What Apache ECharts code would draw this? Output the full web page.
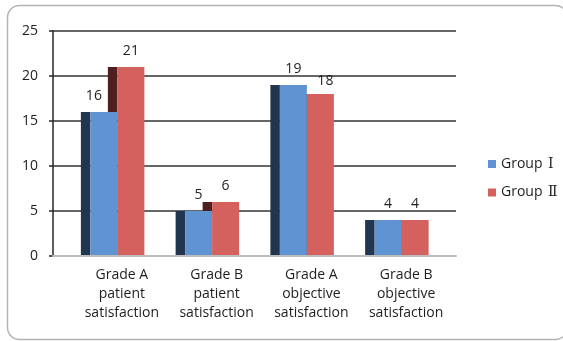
<!DOCTYPE html>
<html>
<head>
<meta charset="utf-8">
<script src="https://cdn.jsdelivr.net/npm/echarts@6/dist/echarts.min.js"></script>
<style>
  html, body { margin: 0; padding: 0; background: #ffffff; }
  #chart { width: 563px; height: 341px; }
</style>
</head>
<body>
<div id="chart"></div>
<script>
// Satisfaction grades for the two groups
const categories = [
  'Grade A\npatient\nsatisfaction',
  'Grade B\npatient\nsatisfaction',
  'Grade A\nobjective\nsatisfaction',
  'Grade B\nobjective\nsatisfaction'
];
const groupOne = [16, 5, 19, 4];
const groupTwo = [21, 6, 18, 4];
const seriesNames = ['Group Ⅰ', 'Group Ⅱ'];
const yTicks = { min: 0, max: 25, interval: 5 };

const FONT = '"Open Sans", "Noto Sans CJK SC", sans-serif';
const NUMERAL_FONT = '"DejaVu Serif", "Liberation Serif", serif';
const TEXT = '#1e1e1e';
const BLUE = '#5f93d2';
const RED = '#d4615d';
const BLUE_SIDE = '#21354f';
const RED_SIDE = '#4e1f1f';
const BAR_W = 27;
const DEPTH = 9.5;
const FS = 14;

// small nudges for a couple of value labels
const labelNudge = { one: { 0: [-10, 0] }, two: { 2: [5, 3] } };

function barData(values, nudges) {
  return values.map((v, i) => nudges[i]
    ? { value: v, label: { offset: nudges[i] } }
    : v);
}

const sideData = categories.map((c, i) => [i, groupOne[i], groupTwo[i]]);

const chart = echarts.init(document.getElementById('chart'), null, { renderer: 'canvas' });

const valueLabel = {
  show: true,
  position: 'top',
  distance: 9,
  fontFamily: FONT,
  fontSize: FS,
  color: TEXT
};

chart.setOption({
  animation: false,
  backgroundColor: '#ffffff',
  textStyle: { fontFamily: FONT },
  graphic: [{
    type: 'rect',
    shape: { x: 7.5, y: 5.5, width: 560, height: 334, r: 12 },
    style: { fill: 'none', stroke: '#b4b4b4', lineWidth: 1.5 },
    z: -10
  }],
  legend: {
    orient: 'vertical',
    left: 483,
    top: 151,
    itemWidth: 8,
    itemHeight: 8,
    itemGap: 12.5,
    icon: 'rect',
    data: seriesNames,
    formatter: function (name) {
      const parts = name.split(' ');
      return '{w|' + parts[0] + '}{n|' + parts[1] + '}';
    },
    textStyle: {
      fontFamily: FONT, fontSize: FS, color: TEXT, lineHeight: 16,
      rich: {
        w: { fontFamily: FONT, fontSize: FS, color: TEXT, width: 47 },
        n: { fontFamily: NUMERAL_FONT, fontSize: FS, color: TEXT }
      }
    }
  },
  grid: [
    { left: 53, top: 31, width: 403, height: 225 },
    { left: 70, top: 31, width: 379, height: 225 }
  ],
  xAxis: [
    {
      gridIndex: 0,
      type: 'category',
      data: categories,
      axisLine: { show: true, lineStyle: { color: '#bdbdbd', width: 2 } },
      axisTick: { show: false },
      axisLabel: { show: false },
      splitLine: { show: false },
      z: 5
    },
    {
      gridIndex: 1,
      type: 'category',
      data: categories,
      axisLine: { show: false },
      axisTick: { show: false },
      axisLabel: {
        show: true,
        fontFamily: FONT,
        fontSize: FS,
        lineHeight: 19,
        color: TEXT,
        margin: 10,
        padding: [0, 0, 0, 9],
        interval: 0
      }
    }
  ],
  yAxis: [
    {
      gridIndex: 0,
      type: 'value',
      min: yTicks.min,
      max: yTicks.max,
      interval: yTicks.interval,
      axisLine: { show: true, lineStyle: { color: '#262626', width: 1.5 } },
      axisTick: { show: true, inside: false, length: 4, lineStyle: { color: '#262626', width: 1.5 } },
      axisLabel: { fontFamily: FONT, fontSize: FS, color: TEXT, margin: 15 },
      splitLine: { show: true, showMinLine: false, lineStyle: { color: '#333333', width: 1.5 } }
    },
    {
      gridIndex: 1,
      type: 'value',
      min: yTicks.min,
      max: yTicks.max,
      interval: yTicks.interval,
      show: false,
      splitLine: { show: false }
    }
  ],
  series: [
    {
      // dark side faces of the columns
      type: 'custom',
      xAxisIndex: 1,
      yAxisIndex: 1,
      silent: true,
      z: 1,
      data: sideData,
      renderItem: function (params, api) {
        const i = api.value(0);
        const base = api.coord([i, 0]);
        const topOne = api.coord([i, api.value(1)]);
        const topTwo = api.coord([i, api.value(2)]);
        const cx = base[0];
        return {
          type: 'group',
          children: [
            {
              type: 'rect',
              shape: { x: cx - DEPTH, y: topTwo[1], width: DEPTH, height: base[1] - topTwo[1] },
              style: { fill: RED_SIDE }
            },
            {
              type: 'rect',
              shape: { x: cx - BAR_W - DEPTH, y: topOne[1], width: DEPTH, height: base[1] - topOne[1] },
              style: { fill: BLUE_SIDE }
            }
          ]
        };
      }
    },
    {
      name: seriesNames[0],
      type: 'bar',
      xAxisIndex: 1,
      yAxisIndex: 1,
      z: 3,
      barWidth: BAR_W,
      barGap: '0%',
      itemStyle: { color: BLUE },
      label: valueLabel,
      data: barData(groupOne, labelNudge.one)
    },
    {
      name: seriesNames[1],
      type: 'bar',
      xAxisIndex: 1,
      yAxisIndex: 1,
      z: 3,
      barWidth: BAR_W,
      barGap: '0%',
      itemStyle: { color: RED },
      label: valueLabel,
      data: barData(groupTwo, labelNudge.two)
    }
  ]
});
</script>
</body>
</html>
